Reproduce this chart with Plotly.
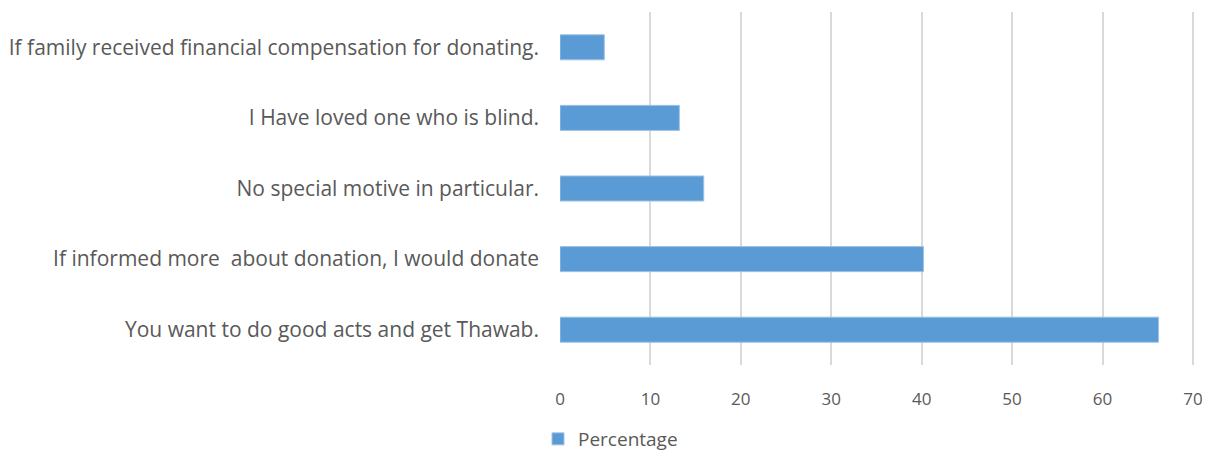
import plotly.graph_objects as go

categories = [
    "If family received financial compensation for donating.",
    "I Have loved one who is blind.",
    "No special motive in particular.",
    "If informed more  about donation, I would donate",
    "You want to do good acts and get Thawab.",
]
percentage = [4.9, 13.2, 15.9, 40.2, 66.2]
x_ticks = [0, 10, 20, 30, 40, 50, 60, 70]

font_family = "'Open Sans', sans-serif"
text_color = "#595959"

# page body has an 8px default margin; size the figure to fit the window without scrollbars
W, H = 1194, 445

fig = go.Figure()
fig.add_trace(go.Bar(
    y=categories,
    x=percentage,
    orientation="h",
    name="Percentage",
    marker=dict(color="#5b9bd5", line=dict(color="#9dc3e6", width=1)),
    showlegend=True,
))

fig.update_layout(
    width=W,
    height=H,
    margin=dict(l=552, r=8, t=4, b=88, autoexpand=False),
    paper_bgcolor="white",
    plot_bgcolor="white",
    bargap=0.645,
    font=dict(family=font_family, size=18, color=text_color),
    xaxis=dict(
        range=[0, 70.12],
        tickvals=x_ticks,
        showgrid=True,
        gridcolor="#d9d9d9",
        gridwidth=1.5,
        zeroline=False,
        showline=False,
        ticks="",
        automargin=False,
        ticklabelstandoff=22,
        ticklabeloverflow="allow",
        tickfont=dict(size=17, color=text_color),
    ),
    yaxis=dict(
        categoryorder="array",
        categoryarray=categories,
        autorange="reversed",
        showgrid=False,
        zeroline=False,
        showline=False,
        ticks="",
        automargin=False,
        ticklabelstandoff=20,
        tickfont=dict(size=21, color=text_color),
    ),
    legend=dict(
        orientation="h",
        xref="container",
        yref="container",
        x=530 / W,
        xanchor="left",
        y=1 - 431 / H,
        yanchor="middle",
        font=dict(size=19, color=text_color),
        itemwidth=30,
    ),
)

fig.write_html("out.html")
